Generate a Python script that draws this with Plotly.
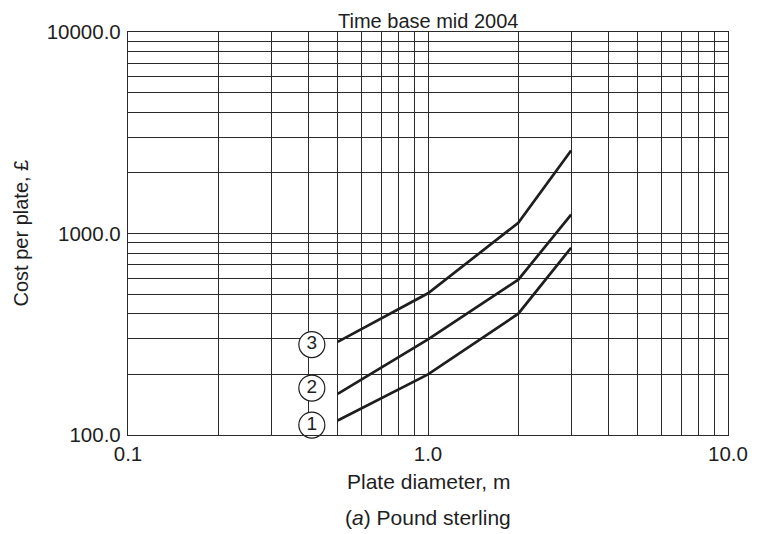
import plotly.graph_objects as go

# Data
plate_diameter = [0.5, 1.0, 2.0, 3.0]
cost_curve_1 = [118, 200, 400, 850]
cost_curve_2 = [160, 298, 590, 1240]
cost_curve_3 = [290, 505, 1130, 2580]
curve_names = ["1", "2", "3"]
label_x = [0.41, 0.41, 0.41]
label_y = [112, 171, 281]

x_tick_labels = ["0.1", "1.0", "10.0"]
y_tick_labels = ["100.0", "1000.0", "10000.0"]

title_text = "Time base mid 2004"
x_title = "Plate diameter, m"
y_title = "Cost per plate, £"
caption = "(<i>a</i>) Pound sterling"

FONT = "Liberation Sans, Arial, Helvetica, sans-serif"
INK = "#1e1e1e"
GRID = "#2a2a2a"


def log_grid(start_decade, n_decades, labels):
    vals, texts = [], []
    for d in range(n_decades):
        base = 10 ** (start_decade + d)
        for m in range(1, 10):
            vals.append(base * m)
            texts.append(labels[d] if m == 1 else "")
    vals.append(10 ** (start_decade + n_decades))
    texts.append(labels[n_decades])
    return vals, texts


xv, xt = log_grid(-1, 2, x_tick_labels)
yv, yt = log_grid(2, 2, y_tick_labels)

fig = go.Figure()
for ys in (cost_curve_1, cost_curve_2, cost_curve_3):
    fig.add_trace(go.Scatter(
        x=plate_diameter, y=ys, mode="lines",
        line=dict(color=INK, width=2.7), showlegend=False, hoverinfo="skip",
    ))

fig.add_trace(go.Scatter(
    x=label_x, y=label_y, mode="markers+text", text=curve_names,
    textposition="middle center",
    textfont=dict(family=FONT, size=19, color=INK),
    marker=dict(symbol="circle", size=26, color="white",
                line=dict(color=INK, width=1.2)),
    showlegend=False, hoverinfo="skip", cliponaxis=False,
))

fig.update_xaxes(
    type="log", range=[-1, 1], tickmode="array", tickvals=xv, ticktext=xt,
    showgrid=True, gridcolor=GRID, gridwidth=1.2, ticks="",
    showline=True, linecolor=GRID, linewidth=1.3, mirror=True,
    zeroline=False,
    tickfont=dict(family=FONT, size=20.5, color=INK),
)
fig.update_yaxes(
    type="log", range=[2, 4], tickmode="array", tickvals=yv, ticktext=yt,
    showgrid=True, gridcolor=GRID, gridwidth=1.2, ticks="",
    showline=True, linecolor=GRID, linewidth=1.3, mirror=True,
    zeroline=False, ticklabelstandoff=2,
    tickfont=dict(family=FONT, size=20.5, color=INK),
)

fig.add_annotation(
    text=title_text, xref="paper", yref="paper", x=0.5, y=1.0,
    yanchor="bottom", yshift=-2, showarrow=False,
    font=dict(family=FONT, size=20, color=INK),
)
fig.add_annotation(
    text=x_title, xref="paper", yref="paper", x=0.5, y=0,
    yanchor="middle", yshift=-46, showarrow=False,
    font=dict(family=FONT, size=21, color=INK),
)
fig.add_annotation(
    text=caption, xref="paper", yref="paper", x=0.5, y=0,
    yanchor="middle", yshift=-82, showarrow=False,
    font=dict(family=FONT, size=21, color=INK),
)
fig.add_annotation(
    text=y_title, xref="paper", yref="paper", x=0, y=0.5,
    xanchor="center", yanchor="middle", xshift=-108, textangle=-90,
    showarrow=False, font=dict(family=FONT, size=20, color=INK),
)

fig.update_layout(
    width=752, height=526,
    margin=dict(l=120, r=23, t=24, b=99),
    paper_bgcolor="white", plot_bgcolor="white",
    font=dict(family=FONT, color=INK),
)

fig.write_html("out.html")
